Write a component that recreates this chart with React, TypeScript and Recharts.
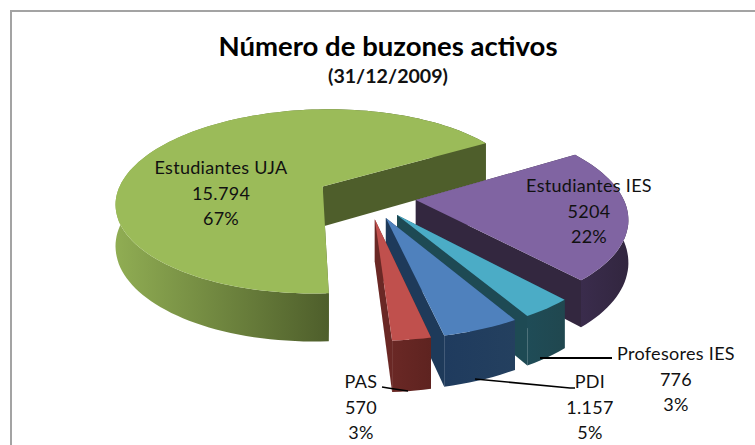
import React from "react";
import { PieChart, Pie } from "recharts";

const categories = ["Estudiantes UJA", "Estudiantes IES", "Profesores IES", "PDI", "PAS"];
const values = [15794, 5204, 776, 1157, 570];
const valueLabels = ["15.794", "5204", "776", "1.157", "570"];
const percentLabels = ["67%", "22%", "3%", "5%", "3%"];

const topColors = ["#9BBB59", "#8064A2", "#4BACC6", "#4F81BD", "#C0504D"];
const wallFrom = ["#90AD53", "#3A2C4C", "#1F4C57", "#1F3B5E", "#6A2825"];
const wallTo = ["#4E5E2B", "#32263F", "#20474F", "#24405F", "#5E2320"];
const sideColors = ["#4E5E2B", "#33273F", "#1E4A54", "#1E3A5A", "#6A2825"];
const explosions = [52, 48, 48, 48, 48];

const labelCentres = [221, 589, 676, 590, 361];
const labelBaselines = [174, 192, 360, 388, 388];
const lineGap = 25.5;
const leaders: [number, number][][] = [
  [],
  [],
  [[540, 358], [612, 358]],
  [[475, 379], [570, 388], [575, 388]],
  [[382, 387], [388, 388], [408, 391]],
];

const TILT = 0.45;
const PERSPECTIVE = 0.0008;
const DEPTH = 41;
const FONT = "Lato, Carlito, sans-serif";
const rad = (d: number) => (d * Math.PI) / 180;

const project = (cx: number, cy: number, u: number, v: number, drop = 0) => {
  const s = 1 / (1 + PERSPECTIVE * v);
  return [cx + u * s, cy - TILT * v * s + drop * s];
};

const toPath = (pts: number[][]) =>
  "M" + pts.map((p) => `${p[0].toFixed(1)},${p[1].toFixed(1)}`).join("L") + "Z";

const Slice3D = (props: any) => {
  const { cx, cy, outerRadius: R, startAngle, endAngle, index } = props;
  const mid = (startAngle + endAngle) / 2;
  const ou = explosions[index] * Math.cos(rad(mid));
  const ov = explosions[index] * Math.sin(rad(mid));
  const steps = Math.max(4, Math.ceil(Math.abs(endAngle - startAngle) / 2));
  const arc = Array.from({ length: steps + 1 }, (_, i) => {
    const a = startAngle + ((endAngle - startAngle) * i) / steps;
    return [ou + R * Math.cos(rad(a)), ov + R * Math.sin(rad(a))];
  });
  const top = arc.map(([u, v]) => project(cx, cy, u, v));
  const bottom = arc.map(([u, v]) => project(cx, cy, u, v, DEPTH));
  const apex = project(cx, cy, ou, ov);
  const apexLow = project(cx, cy, ou, ov, DEPTH);
  const last = top.length - 1;
  const gid = `wall-${index}`;
  const frontXs = top.filter((_, i) => arc[i][1] <= ov + R * 0.1).map((p) => p[0]);
  return (
    <g>
      <defs>
        <linearGradient
          id={gid}
          gradientUnits="userSpaceOnUse"
          x1={Math.min(...frontXs)}
          y1="0"
          x2={Math.max(...frontXs)}
          y2="0"
        >
          <stop offset="0" stopColor={wallFrom[index]} />
          <stop offset="1" stopColor={wallTo[index]} />
        </linearGradient>
      </defs>
      <path d={toPath([apex, top[0], bottom[0], apexLow])} fill={sideColors[index]} />
      <path d={toPath([apex, top[last], bottom[last], apexLow])} fill={sideColors[index]} />
      <path d={toPath([...top, ...[...bottom].reverse()])} fill={`url(#${gid})`} />
      <path d={toPath([apex, ...top])} fill={topColors[index]} />
    </g>
  );
};

const SliceLabel = (props: any) => {
  const { index } = props;
  const x = labelCentres[index];
  const y = labelBaselines[index];
  const rows = [categories[index], valueLabels[index], percentLabels[index]];
  return (
    <g>
      {leaders[index].length > 0 && (
        <polyline
          points={leaders[index].map((p) => p.join(",")).join(" ")}
          fill="none"
          stroke="#000"
          strokeWidth={index === 2 ? 2 : 1.5}
        />
      )}
      {rows.map((row, i) => (
        <text
          key={i}
          x={x}
          y={y + i * lineGap}
          textAnchor="middle"
          fontFamily={FONT}
          fontSize={18}
          letterSpacing={0.3}
          fill="#111"
        >
          {row}
        </text>
      ))}
    </g>
  );
};

export default function App() {
  const data = categories.map((name, i) => ({ name, value: values[i] }));
  return (
    <div style={{ position: "absolute", left: 0, top: 0, width: 755, height: 445, overflow: "hidden", background: "#fff" }}>
      <div
        style={{
          position: "absolute",
          left: 10,
          top: 10,
          width: 745,
          height: 435,
          borderLeft: "2px solid #A3A3A3",
          borderTop: "2px solid #A3A3A3",
        }}
      />
      <div style={{ position: "absolute", left: 0, top: 0 }}>
        <PieChart width={755} height={445} margin={{ top: 0, right: 0, bottom: 0, left: 0 }}>
          <text x={388} y={56} textAnchor="middle" fontFamily={FONT} fontWeight={700} fontSize={27} textLength={339} lengthAdjust="spacingAndGlyphs" fill="#000">
            Número de buzones activos
          </text>
          <text x={388} y={83} textAnchor="middle" fontFamily={FONT} fontWeight={700} fontSize={19} textLength={120} lengthAdjust="spacingAndGlyphs" fill="#111">
            (31/12/2009)
          </text>
          <Pie
            data={data}
            dataKey="value"
            nameKey="name"
            cx={368}
            cy={197}
            outerRadius={207}
            startAngle={-86.5}
            endAngle={-446.5}
            stroke="none"
            isAnimationActive={false}
            shape={Slice3D}
            label={SliceLabel}
            labelLine={false}
          />
        </PieChart>
      </div>
    </div>
  );
}
